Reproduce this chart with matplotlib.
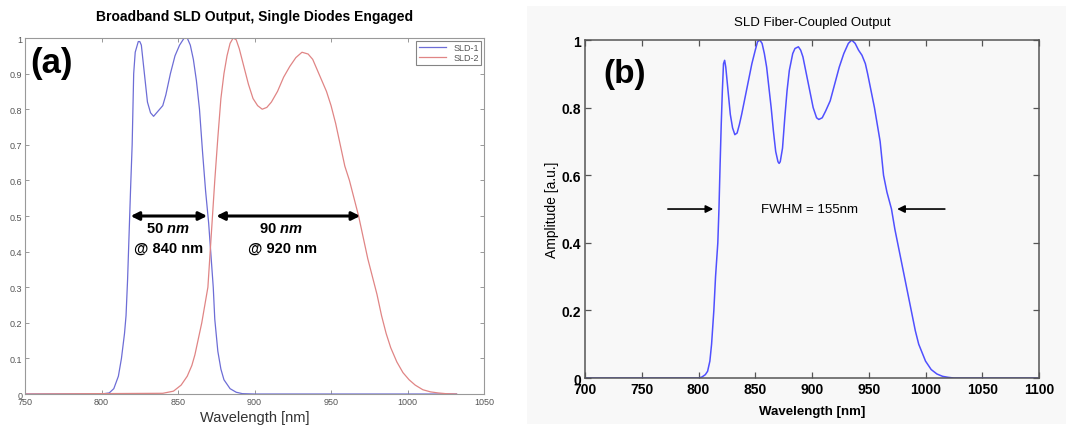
import matplotlib
matplotlib.use("Agg")
import matplotlib.pyplot as plt
from matplotlib.patches import Rectangle

plt.rcParams["font.family"] = ["Liberation Sans", "DejaVu Sans"]
plt.rcParams["mathtext.fontset"] = "custom"
plt.rcParams["mathtext.rm"] = "Liberation Sans:bold"
plt.rcParams["mathtext.it"] = "Liberation Sans:italic:bold"
plt.rcParams["mathtext.bf"] = "Liberation Sans:bold"

# (a) single diodes
sld1_nm = [750, 800, 805, 808, 811, 813, 815, 816, 817, 818, 819, 820, 820.5, 821, 822, 824,
           825, 826, 828, 830, 832, 834, 836, 838, 840, 842, 845, 848, 851, 854, 856, 858,
           860, 862, 864, 866, 868, 870, 872, 873, 874, 876, 878, 880, 884, 888, 892, 900, 1032]
sld1_amp = [0, 0, 0.003, 0.015, 0.05, 0.1, 0.17, 0.22, 0.32, 0.45, 0.58, 0.7, 0.8, 0.9, 0.96, 0.99,
            0.99, 0.98, 0.9, 0.82, 0.79, 0.78, 0.79, 0.8, 0.81, 0.84, 0.9, 0.95, 0.98, 1.0, 1.0, 0.98,
            0.94, 0.88, 0.8, 0.68, 0.57, 0.48, 0.36, 0.3, 0.21, 0.12, 0.07, 0.04, 0.015, 0.005, 0.001, 0, 0]

sld2_nm = [750, 840, 847, 852, 856, 859, 861, 863, 865.5, 867.5, 869.5, 871, 872.5, 874, 876, 878,
           880, 882, 884, 886, 888, 890, 893, 896, 899, 902, 905, 908, 911, 915, 919, 923, 927,
           931, 935, 938, 941, 944, 947, 950, 953, 956, 959, 962, 965, 968, 971, 974, 977, 980,
           983, 986, 989, 993, 997, 1001, 1005, 1010, 1015, 1020, 1025, 1032]
sld2_amp = [0, 0.002, 0.008, 0.025, 0.05, 0.08, 0.11, 0.15, 0.2, 0.25, 0.3, 0.4, 0.5, 0.6, 0.72, 0.83,
            0.9, 0.95, 0.985, 1.0, 0.995, 0.97, 0.92, 0.87, 0.83, 0.81, 0.8, 0.805, 0.82, 0.85, 0.89, 0.92, 0.945,
            0.96, 0.955, 0.94, 0.91, 0.88, 0.85, 0.81, 0.76, 0.7, 0.64, 0.6, 0.55, 0.5, 0.44, 0.38, 0.33, 0.28,
            0.22, 0.17, 0.13, 0.09, 0.06, 0.04, 0.025, 0.012, 0.006, 0.003, 0.001, 0]

# (b) fiber-coupled output
fiber_nm = [700, 800, 803, 806, 808, 810, 811.5, 813.5, 815, 817, 818, 819, 820, 821, 822, 823, 824,
            826, 828, 830, 832, 834, 836, 838, 841, 844, 847, 850, 852, 854, 856, 858, 860, 862, 864,
            866, 868, 870, 871, 872, 874, 876, 878, 880, 883, 885, 888, 890, 892, 895, 898, 901, 904,
            906, 909, 912, 916, 920, 924, 928, 932, 935, 938, 941, 944, 947, 949, 952, 955, 958, 960,
            963, 966, 970, 973, 976, 979, 982, 985, 988, 991, 994, 997, 1000, 1005, 1010, 1015, 1020,
            1025, 1100]
fiber_amp = [0, 0, 0.003, 0.01, 0.02, 0.05, 0.1, 0.2, 0.3, 0.4, 0.5, 0.63, 0.75, 0.85, 0.93, 0.94, 0.92,
             0.85, 0.78, 0.74, 0.72, 0.725, 0.75, 0.78, 0.83, 0.88, 0.93, 0.97, 0.995, 1.0, 0.99, 0.96, 0.92,
             0.86, 0.8, 0.73, 0.67, 0.64, 0.635, 0.64, 0.68, 0.77, 0.85, 0.91, 0.96, 0.975, 0.98, 0.97, 0.95,
             0.9, 0.85, 0.8, 0.77, 0.765, 0.77, 0.79, 0.82, 0.87, 0.92, 0.96, 0.99, 1.0, 0.99, 0.97, 0.955,
             0.93, 0.9, 0.85, 0.8, 0.74, 0.7, 0.6, 0.55, 0.5, 0.44, 0.39, 0.34, 0.29, 0.24, 0.19, 0.14, 0.1,
             0.075, 0.05, 0.025, 0.012, 0.005, 0.002, 0, 0]

a_xticks = [750, 800, 850, 900, 950, 1000, 1050]
a_yticks = [0, 0.1, 0.2, 0.3, 0.4, 0.5, 0.6, 0.7, 0.8, 0.9, 1]
b_xticks = [700, 750, 800, 850, 900, 950, 1000, 1050, 1100]
b_yticks = [0, 0.2, 0.4, 0.6, 0.8, 1]

fig = plt.figure(figsize=(10.66, 4.31), dpi=100)
# light grey backdrop behind panel (b)
fig.add_artist(Rectangle((0.494, 0.014), 0.506, 0.97, transform=fig.transFigure,
                         facecolor="#f8f8f8", edgecolor="none", zorder=-5))

# ---- panel (a)
ax = fig.add_axes([0.0235, 0.0835, 0.4306, 0.826])
ax.plot(sld1_nm, sld1_amp, color="#6d6dd6", lw=0.9, label="SLD-1")
ax.plot(sld2_nm, sld2_amp, color="#e08585", lw=0.9, label="SLD-2")
ax.set_xlim(750, 1050)
ax.set_ylim(0, 1)
ax.set_xticks(a_xticks)
ax.set_yticks(a_yticks)
ax.set_yticklabels([f"{v:g}" for v in a_yticks])
ax.tick_params(direction="in", top=True, right=True, length=3, width=0.6,
               labelsize=6.5, labelcolor="#555555", color="#888888", pad=2)
for s in ax.spines.values():
    s.set_color("#999999")
    s.set_linewidth(0.8)
ax.set_xlabel("Wavelength [nm]", fontsize=10.5, color="#333333", labelpad=3)
ax.set_title("Broadband SLD Output, Single Diodes Engaged", fontsize=10,
             fontweight="bold", pad=13)
leg = ax.legend(loc="upper right", fontsize=6.5, frameon=True, fancybox=False,
                borderaxespad=0.3, handlelength=3, labelspacing=0.1,
                borderpad=0.3, labelcolor="#555555")
leg.get_frame().set_edgecolor("#666666")
leg.get_frame().set_linewidth(0.8)
ax.text(0.012, 0.93, "(a)", transform=ax.transAxes, fontsize=25, fontweight="bold",
        va="center", ha="left")

arrow_a = dict(arrowstyle="<|-|>", color="black", lw=2.2, mutation_scale=12,
               shrinkA=0, shrinkB=0)
ax.annotate("", xy=(819, 0.5), xytext=(869, 0.5), arrowprops=arrow_a)
ax.annotate("", xy=(875, 0.5), xytext=(969, 0.5), arrowprops=arrow_a)
ax.text(843.5, 0.467, r"50 $\mathit{nm}$", ha="center", va="center", fontsize=10.5, fontweight="bold")
ax.text(843.5, 0.41, "@ 840 nm", ha="center", va="center", fontsize=10.5, fontweight="bold")
ax.text(917, 0.467, r"90 $\mathit{nm}$", ha="center", va="center", fontsize=10.5, fontweight="bold")
ax.text(918, 0.41, "@ 920 nm", ha="center", va="center", fontsize=10.5, fontweight="bold")

# ---- panel (b)
bx = fig.add_axes([0.5488, 0.1206, 0.4259, 0.7842])
bx.set_facecolor("#f8f8f8")
bx.plot(fiber_nm, fiber_amp, color="#5050ff", lw=1.1)
bx.set_xlim(700, 1100)
bx.set_ylim(0, 1)
bx.set_xticks(b_xticks)
bx.set_yticks(b_yticks)
bx.set_yticklabels([f"{v:g}" for v in b_yticks])
bx.tick_params(direction="in", top=True, right=True, length=4, width=0.9,
               labelsize=10, color="#555555", pad=3)
for lab in bx.get_xticklabels() + bx.get_yticklabels():
    lab.set_fontweight("bold")
for s in bx.spines.values():
    s.set_color("#555555")
    s.set_linewidth(1.1)
bx.set_xlabel("Wavelength [nm]", fontsize=9.5, fontweight="bold", labelpad=6)
bx.set_ylabel("Amplitude [a.u.]", fontsize=10, labelpad=2)
bx.set_title("SLD Fiber-Coupled Output", fontsize=9.5, pad=11)
bx.text(0.04, 0.9, "(b)", transform=bx.transAxes, fontsize=24, fontweight="bold",
        va="center", ha="left")

arrow_b = dict(arrowstyle="-|>", color="black", lw=1.2, mutation_scale=11,
               shrinkA=0, shrinkB=0)
bx.annotate("", xy=(813, 0.5), xytext=(773, 0.5), arrowprops=arrow_b)
bx.annotate("", xy=(975, 0.5), xytext=(1017, 0.5), arrowprops=arrow_b)
bx.text(898, 0.5, "FWHM = 155nm", ha="center", va="center", fontsize=9.5)

fig.savefig("out.png", dpi=100)
